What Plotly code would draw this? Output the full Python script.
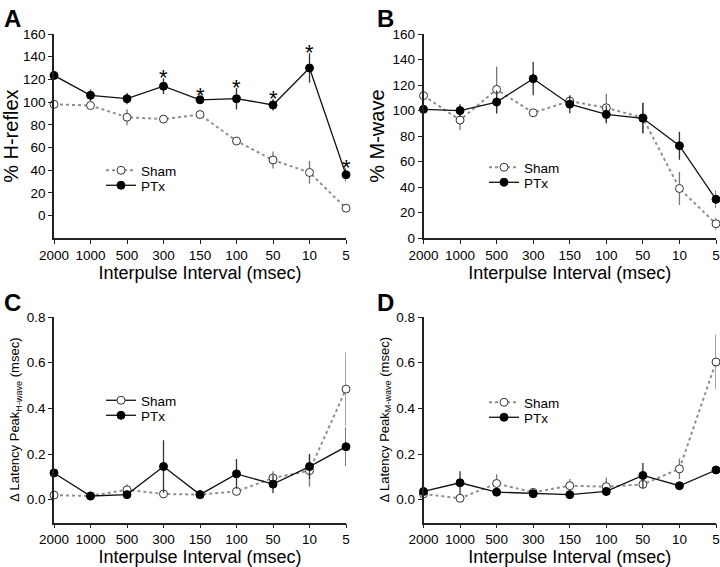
import plotly.graph_objects as go
from plotly.subplots import make_subplots

intervals = ["2000", "1000", "500", "300", "150", "100", "50", "10", "5"]
xi = list(range(len(intervals)))

# Panel A: % H-reflex
a_sham = [98, 97, 86.7, 85, 89, 65.7, 49, 38, 6.5]
a_sham_err = [2, 2, 7, 3, 2, 2, 7.5, 10, 2]
a_ptx = [123.5, 106, 103, 114, 102, 103, 97.5, 130, 36]
a_ptx_err = [2, 5, 5, 7, 3, 9.5, 5, 13, 6]
a_sig = [False, False, False, True, True, True, True, True, True]

# Panel B: % M-wave
b_sham = [111.7, 92.6, 116.6, 98.3, 107.5, 102.2, 94.4, 39, 11.4]
b_sham_err = [3, 8, 18, 2, 4, 11, 12, 13, 5]
b_ptx = [101, 100, 106.7, 125, 105, 97, 94, 72.5, 30.5]
b_ptx_err = [2, 5, 9, 13, 7, 7, 12, 11, 7]

# Panel C: delta latency peak H-wave
c_sham = [0.02, 0.016, 0.043, 0.025, 0.022, 0.036, 0.095, 0.127, 0.484]
c_sham_err = [0.01, 0.01, 0.025, 0.01, 0.01, 0.01, 0.03, 0.07, 0.16]
c_ptx = [0.117, 0.016, 0.022, 0.145, 0.022, 0.113, 0.068, 0.145, 0.232]
c_ptx_err = [0.01, 0.01, 0.01, 0.115, 0.01, 0.065, 0.04, 0.055, 0.085]

# Panel D: delta latency peak M-wave
d_sham = [0.025, 0.006, 0.071, 0.032, 0.061, 0.057, 0.067, 0.135, 0.603]
d_sham_err = [0.01, 0.01, 0.04, 0.01, 0.03, 0.04, 0.01, 0.045, 0.12]
d_ptx = [0.036, 0.074, 0.033, 0.026, 0.022, 0.036, 0.106, 0.061, 0.13]
d_ptx_err = [0.01, 0.05, 0.01, 0.01, 0.01, 0.02, 0.055, 0.01, 0.015]

FONT = "Arial, Liberation Sans, sans-serif"
W, H = 720, 567


def px_x(p):
    return p / W


def px_y(p):
    return 1 - p / H


fig = make_subplots(rows=2, cols=2)


def add_panel(row, col, sham, sham_err, ptx, ptx_err, leg_sham, leg_ptx, sham_legend_solid=False):
    fig.add_trace(go.Scatter(
        x=xi, y=sham, name="Sham", mode="lines+markers",
        line=dict(color="#8f8f8f", width=2, dash="dot"),
        marker=dict(symbol="circle", size=8, color="white", line=dict(color="#333", width=1)),
        error_y=dict(type="data", array=sham_err, visible=True, width=0, thickness=1.3, color="#777"),
        cliponaxis=False, legend=leg_sham, showlegend=not sham_legend_solid,
    ), row=row, col=col)
    if sham_legend_solid:
        fig.add_trace(go.Scatter(
            x=[None], y=[None], name="Sham", mode="lines+markers",
            line=dict(color="#111", width=1.3),
            marker=dict(symbol="circle", size=8, color="white", line=dict(color="#333", width=1)),
            legend=leg_sham, showlegend=True,
        ), row=row, col=col)
    fig.add_trace(go.Scatter(
        x=xi, y=ptx, name="PTx", mode="lines+markers",
        line=dict(color="#111", width=1.3),
        marker=dict(symbol="circle", size=8, color="black", line=dict(color="black", width=1)),
        error_y=dict(type="data", array=ptx_err, visible=True, width=0, thickness=1.3, color="#333"),
        cliponaxis=False, legend=leg_ptx,
    ), row=row, col=col)


add_panel(1, 1, a_sham, a_sham_err, a_ptx, a_ptx_err, "legend", "legend5")
add_panel(1, 2, b_sham, b_sham_err, b_ptx, b_ptx_err, "legend2", "legend6")
add_panel(2, 1, c_sham, c_sham_err, c_ptx, c_ptx_err, "legend3", "legend7", sham_legend_solid=True)
add_panel(2, 2, d_sham, d_sham_err, d_ptx, d_ptx_err, "legend4", "legend8")

# significance asterisks panel A
for i, s in enumerate(a_sig):
    if s:
        fig.add_annotation(x=xi[i], y=a_ptx[i] + a_ptx_err[i], xref="x", yref="y",
                           text="*", showarrow=False, yanchor="bottom", yshift=-14,
                           font=dict(size=22, color="black", family=FONT))

dom_left = [px_x(54), px_x(346)]
dom_right = [px_x(423.5), px_x(716)]
dom_top = [px_y(238.3), px_y(34)]
dom_bot = [px_y(522.5), px_y(317)]

axis_common = dict(showline=True, linecolor="#222", linewidth=1.5, ticks="outside",
                   ticklen=4, tickcolor="#222", showgrid=False, zeroline=False, automargin=False,
                   tickfont=dict(size=13.5, color="black", family=FONT))


def xax(domain, anchor, standoff):
    return dict(axis_common, domain=domain, anchor=anchor, range=[0, 8], tickvals=xi, ticktext=intervals,
                title=dict(text="Interpulse Interval (msec)",
                           font=dict(size=18, family=FONT, color="black"), standoff=standoff))


ytitle_big = dict(size=20, family=FONT, color="black")
ytitle_small = dict(size=13, family=FONT, color="black")

fig.update_layout(
    xaxis=xax(dom_left, "y", 3),
    xaxis2=xax(dom_right, "y2", 3),
    xaxis3=xax(dom_left, "y3", 5),
    xaxis4=xax(dom_right, "y4", 5),
    yaxis=dict(axis_common, domain=dom_top, range=[-20, 160], tickvals=[0, 20, 40, 60, 80, 100, 120, 140, 160],
               title=dict(text="% H-reflex", font=ytitle_big, standoff=3), anchor="x"),
    yaxis2=dict(axis_common, domain=dom_top, range=[0, 160], tickvals=[0, 20, 40, 60, 80, 100, 120, 140, 160],
                title=dict(text="% M-wave", font=ytitle_big, standoff=3), anchor="x2"),
    yaxis3=dict(axis_common, domain=dom_bot, range=[-0.1, 0.8], tickvals=[0, 0.2, 0.4, 0.6, 0.8], tickformat=".1f",
                title=dict(text="Δ Latency Peak<sub>H-wave</sub> (msec)", font=ytitle_small, standoff=4), anchor="x3"),
    yaxis4=dict(axis_common, domain=dom_bot, range=[-0.1, 0.8], tickvals=[0, 0.2, 0.4, 0.6, 0.8], tickformat=".1f",
                title=dict(text="Δ Latency Peak<sub>M-wave</sub> (msec)", font=ytitle_small, standoff=4), anchor="x4"),
)

leg_common = dict(bgcolor="rgba(0,0,0,0)", font=dict(size=13.5, family=FONT, color="black"),
                  xanchor="left", yanchor="top", itemwidth=30, tracegroupgap=0)
fig.update_layout(
    legend=dict(leg_common, x=px_x(101), y=px_y(155)),
    legend5=dict(leg_common, x=px_x(101), y=px_y(170)),
    legend2=dict(leg_common, x=px_x(484), y=px_y(152)),
    legend6=dict(leg_common, x=px_x(484), y=px_y(167)),
    legend3=dict(leg_common, x=px_x(101), y=px_y(385)),
    legend7=dict(leg_common, x=px_x(101), y=px_y(400)),
    legend4=dict(leg_common, x=px_x(484), y=px_y(387)),
    legend8=dict(leg_common, x=px_x(484), y=px_y(402)),
)

for txt, px, py in [("A", 2, 3), ("B", 375, 3), ("C", 2, 287), ("D", 375, 287)]:
    fig.add_annotation(text="<b>%s</b>" % txt, x=px_x(px), y=px_y(py), xref="paper", yref="paper",
                       xanchor="left", yanchor="top", showarrow=False,
                       font=dict(size=24, family=FONT, color="black"))

fig.update_layout(width=W, height=H, margin=dict(l=0, r=0, t=0, b=0),
                  paper_bgcolor="white", plot_bgcolor="white",
                  font=dict(family=FONT, color="black"))

# remove the default 8px page margin so the 720x567 figure fills the window exactly
fig.write_html("out.html", config={"displayModeBar": False},
               post_script="document.body.style.margin='0';document.body.style.overflow='hidden';")
